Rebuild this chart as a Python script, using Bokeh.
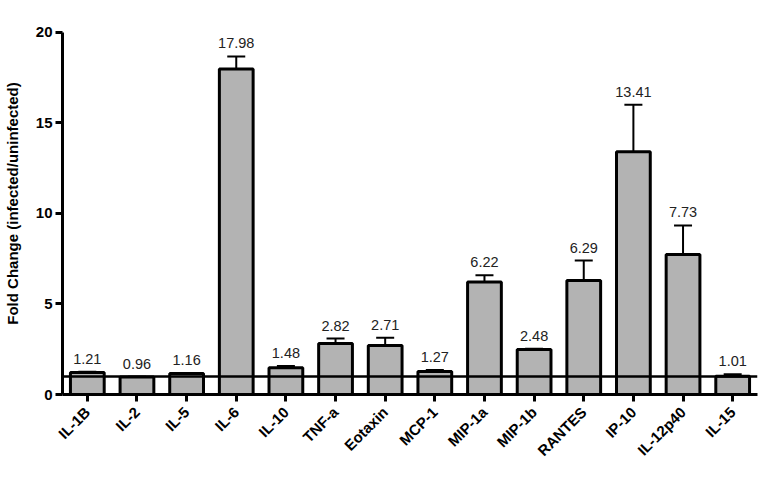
import math
from bokeh.plotting import figure
from bokeh.models import ColumnDataSource, FactorRange, Range1d, Span, Whisker, TeeHead, FixedTicker
from bokeh.core.properties import value
from bokeh.embed import file_html
from bokeh.resources import INLINE

categories = ["IL-1B", "IL-2", "IL-5", "IL-6", "IL-10", "TNF-a", "Eotaxin", "MCP-1",
              "MIP-1a", "MIP-1b", "RANTES", "IP-10", "IL-12p40", "IL-15"]
fold_change = [1.21, 0.96, 1.16, 17.98, 1.48, 2.82, 2.71, 1.27, 6.22, 2.48, 6.29, 13.41, 7.73, 1.01]
sem = [0.04, 0.02, 0.03, 0.69, 0.10, 0.27, 0.42, 0.09, 0.37, 0.05, 1.11, 2.59, 1.61, 0.11]
y_ticks = [0, 5, 10, 15, 20]

upper = [v + e for v, e in zip(fold_change, sem)]
labels = ["%.2f" % v for v in fold_change]
src = ColumnDataSource(dict(cat=categories, val=fold_change, up=upper, lab=labels))

p = figure(width=759, height=473, output_backend="svg", toolbar_location=None,
           x_range=FactorRange(*categories, range_padding=0), y_range=Range1d(0, 21.1),
           min_border_left=57, min_border_right=2, min_border_top=12, min_border_bottom=79)
p.outline_line_color = None
p.xgrid.grid_line_color = None
p.ygrid.grid_line_color = None
p.background_fill_color = "white"

p.add_layout(Span(location=1, dimension="width", line_color="black", line_width=2.5))

p.vbar(x="cat", top="val", bottom=0, width=0.68, source=src,
       fill_color="#b3b3b3", line_color="black", line_width=3)

w = Whisker(base="cat", lower="val", upper="up", source=src, dimension="height",
            line_color="black", line_width=2,
            upper_head=TeeHead(size=18, line_color="black", line_width=2), lower_head=None)
p.add_layout(w)

p.text(x="cat", y="up", text="lab", source=src, text_align="center", text_baseline="bottom",
       y_offset=-8, text_font=value("Liberation Sans"), text_font_size="14.5px", text_color="#222222")

font = "Liberation Sans"
p.yaxis.ticker = FixedTicker(ticks=y_ticks)
p.yaxis.bounds = (0, 20)
p.yaxis.axis_label = "Fold Change (infected/uninfected)"
p.yaxis.axis_label_text_font = font
p.yaxis.axis_label_text_font_style = "bold"
p.yaxis.axis_label_text_font_size = "15px"
p.yaxis.axis_label_text_color = "black"
p.yaxis.axis_label_standoff = 12
p.yaxis.minor_tick_line_color = None

for ax in (p.xaxis, p.yaxis):
    ax.axis_line_width = 3
    ax.axis_line_color = "black"
    ax.major_tick_line_width = 3
    ax.major_tick_line_color = "black"
    ax.major_tick_out = 7
    ax.major_tick_in = 0
    ax.major_label_text_font = font
    ax.major_label_text_font_style = "bold"
    ax.major_label_text_color = "black"

p.yaxis.major_label_text_font_size = "15px"
p.xaxis.major_label_text_font_size = "15px"
p.yaxis.major_label_standoff = 3
p.xaxis.major_label_orientation = math.pi / 4
p.xaxis.major_label_standoff = 8

open("out.html", "w").write(file_html(p, INLINE))
